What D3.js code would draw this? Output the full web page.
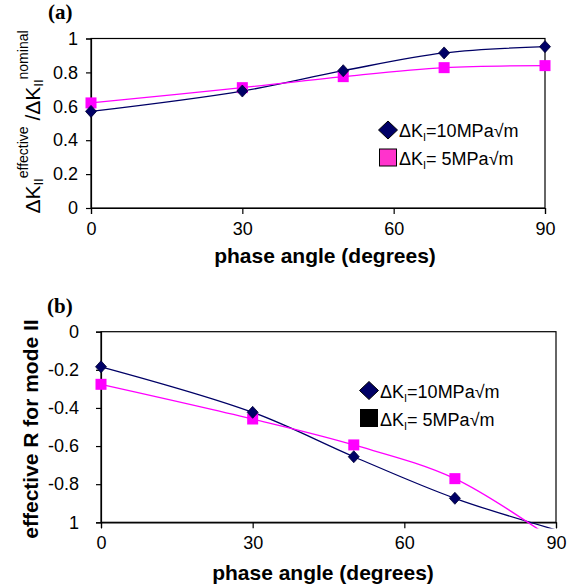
<!DOCTYPE html>
<html><head><meta charset="utf-8">
<script src="https://cdn.jsdelivr.net/npm/d3@7"></script>
<style>body{margin:0;background:#fff}svg{display:block}</style>
</head><body>
<svg id="c" width="571" height="587"></svg>
<script>
const angles = [0, 30, 50, 70, 90];
const xTicks = [0, 30, 60, 90];
// panel (a)
const a10 = [0.57, 0.69, 0.81, 0.915, 0.952];
const a5 = [0.62, 0.71, 0.775, 0.828, 0.84];
const aTicks = [0, 0.2, 0.4, 0.6, 0.8, 1];
const aTickLabels = ["0", "0.2", "0.4", "0.6", "0.8", "1"];
// panel (b)
const b10 = [-0.184, -0.423, -0.656, -0.874, -1.04];
const b5 = [-0.276, -0.458, -0.594, -0.771, -1.1];
const bTicks = [0, -0.2, -0.4, -0.6, -0.8, -1];
const bTickLabels = ["0", "-0.2", "-0.4", "-0.6", "-0.8", "1"];
const seriesNames = ["10MPa√m", " 5MPa√m"];

const NAVY = "#000066", PINK = "#ff00ff";
const svg = d3.select("#c");
const FONT = "Liberation Sans, Arial, sans-serif";

function panel(opt) {
  const g = svg.append("g");
  const x = d3.scaleLinear().domain([0, 90]).range([opt.x0, opt.x1]);
  const y = d3.scaleLinear().domain(opt.ydom).range([opt.y0, opt.y1]);
  g.append("rect").attr("x", opt.x0).attr("y", opt.y1).attr("width", opt.x1 - opt.x0)
    .attr("height", opt.y0 - opt.y1).attr("fill", "none").attr("stroke", "#000").attr("stroke-width", 1.2);
  const xa = g.append("g").attr("transform", `translate(0,${opt.y0})`)
    .call(d3.axisBottom(x).tickValues(xTicks).tickSize(6).tickPadding(opt.xpad).tickFormat(d3.format("d")));
  const ya = g.append("g").attr("transform", `translate(${opt.x0},0)`)
    .call(d3.axisLeft(y).tickValues(opt.yticks).tickSize(5).tickPadding(opt.ypad)
      .tickFormat((d, i) => opt.ylabels[i]));
  [xa, ya].forEach(a => {
    a.selectAll("path,line").attr("stroke", "#000").attr("stroke-width", 1.2);
    a.selectAll("text").attr("font-family", FONT).attr("font-size", 18).attr("fill", "#000");
  });
  const clipId = "clip" + opt.id;
  g.append("clipPath").attr("id", clipId).append("rect")
    .attr("x", opt.x0 - 10).attr("y", opt.y1 - 10).attr("width", opt.x1 - opt.x0 + 20)
    .attr("height", opt.y0 - opt.y1 + 10 + opt.clipBelow);
  const line = d3.line().x((d, i) => x(angles[i])).y(d => y(d)).curve(d3.curveCatmullRom);
  const inDom = v => v >= Math.min(...opt.ydom) - 1e-9 && v <= Math.max(...opt.ydom) + 1e-9;
  const lg = g.append("g").attr("clip-path", `url(#${clipId})`);
  lg.append("path").datum(opt.s10).attr("d", line).attr("fill", "none").attr("stroke", NAVY).attr("stroke-width", 1.3);
  lg.append("path").datum(opt.s5).attr("d", line).attr("fill", "none").attr("stroke", PINK).attr("stroke-width", 1.3);
  // markers
  const diamond = d3.symbol().type(d3.symbolDiamond2 || d3.symbolDiamond);
  g.append("g").selectAll("rect").data(opt.s5.map((v, i) => [angles[i], v]).filter(d => inDom(d[1])))
    .join("rect").attr("x", d => x(d[0]) - 5.5).attr("y", d => y(d[1]) - 5.5)
    .attr("width", 11).attr("height", 11).attr("fill", PINK);
  g.append("g").selectAll("path").data(opt.s10.map((v, i) => [angles[i], v]).filter(d => inDom(d[1])))
    .join("path").attr("transform", d => `translate(${x(d[0])},${y(d[1])})`)
    .attr("d", "M0,-6L5.5,0L0,6L-5.5,0Z").attr("fill", NAVY).attr("stroke", "#000033").attr("stroke-width", 0.8);
  // legend
  const L = opt.legend;
  g.append("path").attr("transform", `translate(${L.x},${L.y1})`)
    .attr("d", "M0,-9L9.5,0L0,9L-9.5,0Z").attr("fill", NAVY).attr("stroke", "#000").attr("stroke-width", 1);
  g.append("rect").attr("x", L.x - 8.5).attr("y", L.y2 - 8.5).attr("width", 17).attr("height", 17)
    .attr("fill", L.sqFill).attr("stroke", "#000").attr("stroke-width", 1);
  [[L.y1 + 7, seriesNames[0]], [L.y2 + 7.5, seriesNames[1]]].forEach(([yy, name]) => {
    const t = g.append("text").attr("x", L.x + 11).attr("y", yy).attr("font-family", FONT).attr("font-size", 18);
    t.append("tspan").text("ΔK");
    t.append("tspan").attr("font-size", 11).attr("dy", 4).text("I");
    t.append("tspan").attr("dy", -4).text("=" + name);
  });
  // panel tag
  g.append("text").attr("x", opt.tag[0]).attr("y", opt.tag[1]).attr("font-family", "Liberation Serif, Times New Roman, serif")
    .attr("font-weight", "bold").attr("font-size", 21).text(opt.tagText);
  // x label
  g.append("text").attr("x", opt.xl[0]).attr("y", opt.xl[1]).attr("text-anchor", "middle")
    .attr("font-family", FONT).attr("font-weight", "bold").attr("font-size", 21).text("phase angle (degrees)");
  return g;
}

panel({id: "a", x0: 91, x1: 545, y0: 208, y1: 38.5, ydom: [0, 1], yticks: aTicks, ylabels: aTickLabels,
  xpad: 8, ypad: 8, s10: a10, s5: a5, clipBelow: 0,
  legend: {x: 388, y1: 130, y2: 157.5, sqFill: "#ff33cc"}, tag: [48, 19], tagText: "(a)", xl: [325, 263]});

panel({id: "b", x0: 101, x1: 556, y0: 522.3, y1: 331.7, ydom: [-1, 0], yticks: bTicks, ylabels: bTickLabels,
  xpad: 8, ypad: 17, s10: b10, s5: b5, clipBelow: 6.2,
  legend: {x: 369, y1: 390.5, y2: 418, sqFill: "#000"}, tag: [47, 313], tagText: "(b)", xl: [323, 580]});

// y label (a)
const ta = svg.append("text").attr("transform", "translate(40,122) rotate(-90)").attr("text-anchor", "middle")
  .attr("font-family", FONT).attr("font-size", 21);
ta.append("tspan").text("ΔK");
ta.append("tspan").attr("font-size", 13).attr("dy", 3).text("II");
ta.append("tspan").attr("font-size", 14).attr("dy", -15).text("effective");
ta.append("tspan").attr("dy", 12).text(" /ΔK");
ta.append("tspan").attr("font-size", 13).attr("dy", 3).text("II");
ta.append("tspan").attr("font-size", 14).attr("dy", -15).text("nominal");

// y label (b)
svg.append("text").attr("transform", "translate(38,429) rotate(-90)").attr("text-anchor", "middle")
  .attr("font-family", FONT).attr("font-weight", "bold").attr("font-size", 21).text("effective R for mode II");
</script>
</body></html>
